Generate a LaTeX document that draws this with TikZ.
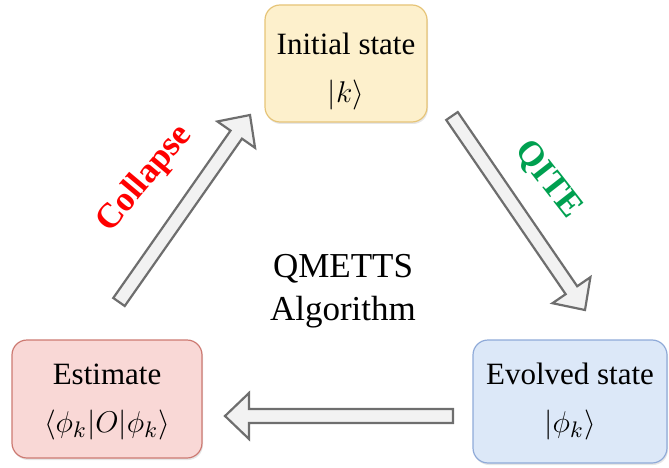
\documentclass[tikz,border=0pt]{standalone}
\usepackage{fontspec}
\setmainfont{Liberation Serif}
\usetikzlibrary{calc,shadows}
\definecolor{yfill}{HTML}{FDF0CC}
\definecolor{ydraw}{HTML}{E6C477}
\definecolor{rfill}{HTML}{F9D8D6}
\definecolor{rdraw}{HTML}{CD7A72}
\definecolor{bfill}{HTML}{DCE8F8}
\definecolor{bdraw}{HTML}{8FAAD8}
\definecolor{arrfill}{HTML}{F2F2F2}
\definecolor{arrdraw}{HTML}{6E6E6E}
\definecolor{qgreen}{RGB}{0,160,80}
\newcommand\fatarrow[2]{%
  \coordinate (hh) at ($(#2)!24pt!(#1)$);
  \draw[fatarr] ($(#1)!7pt!90:(#2)$) -- ($(hh)!7pt!90:(#2)$) -- ($(hh)!23pt!90:(#2)$)
     -- (#2) -- ($(hh)!23pt!-90:(#2)$) -- ($(hh)!7pt!-90:(#2)$) -- ($(#1)!7pt!-90:(#2)$) -- cycle;
}
\begin{document}
\begin{tikzpicture}[x=1pt,y=-1pt,
  box/.style={rounded corners=15pt, line width=1.2pt, inner sep=0pt,
    drop shadow={shadow xshift=1pt, shadow yshift=-2pt, opacity=0.2}},
  txt/.style={align=center, inner sep=0pt, scale=2.5, font=\fontsize{12.4}{19.2}\selectfont},
  fatarr/.style={fill=arrfill, draw=arrdraw, line width=2.2pt, line join=miter},
  lbl/.style={font=\bfseries\fontsize{14}{16}\selectfont, scale=2.5, inner sep=0pt}]
\useasboundingbox (0,0) rectangle (669,468);
% boxes
\node[box, fill=yfill, draw=ydraw, minimum width=162pt, minimum height=117pt] (init) at (346,63.5) {};
\node[box, fill=rfill, draw=rdraw, minimum width=190pt, minimum height=118pt] (est) at (107,399) {};
\node[box, fill=bfill, draw=bdraw, minimum width=194pt, minimum height=123pt] (evo) at (570,401.5) {};
\node[txt] (initT) at ($(init.center)+(0,8)$) {Initial state\\$|k\rangle$};
\node[txt] (estT) at ($(est.center)+(0,3)$) {Estimate\\$\langle\phi_k|O|\phi_k\rangle$};
\node[txt] (evoT) at ($(evo.center)+(0,0)$) {Evolved state\\$|\phi_k\rangle$};
% arrow end points
\coordinate (cTail) at (119,302);
\coordinate (cTip) at (250,115);
\coordinate (qTail) at (452,116);
\coordinate (qTip) at (585,310);
\coordinate (bTail) at (453,416);
\coordinate (bTip) at (225,416);
\fatarrow{cTail}{cTip}
\fatarrow{qTail}{qTip}
\fatarrow{bTail}{bTip}
% labels
\node[lbl, text=red, rotate=50] (coll) at (145,179) {Collapse};
\node[lbl, text=qgreen, rotate=-52] (qite) at (548,180) {QITE};
\node[align=center, inner sep=0pt, scale=2.5, font=\fontsize{14}{17.2}\selectfont] (center) at (343,291) {QMETTS\\Algorithm};
\end{tikzpicture}
\end{document}
